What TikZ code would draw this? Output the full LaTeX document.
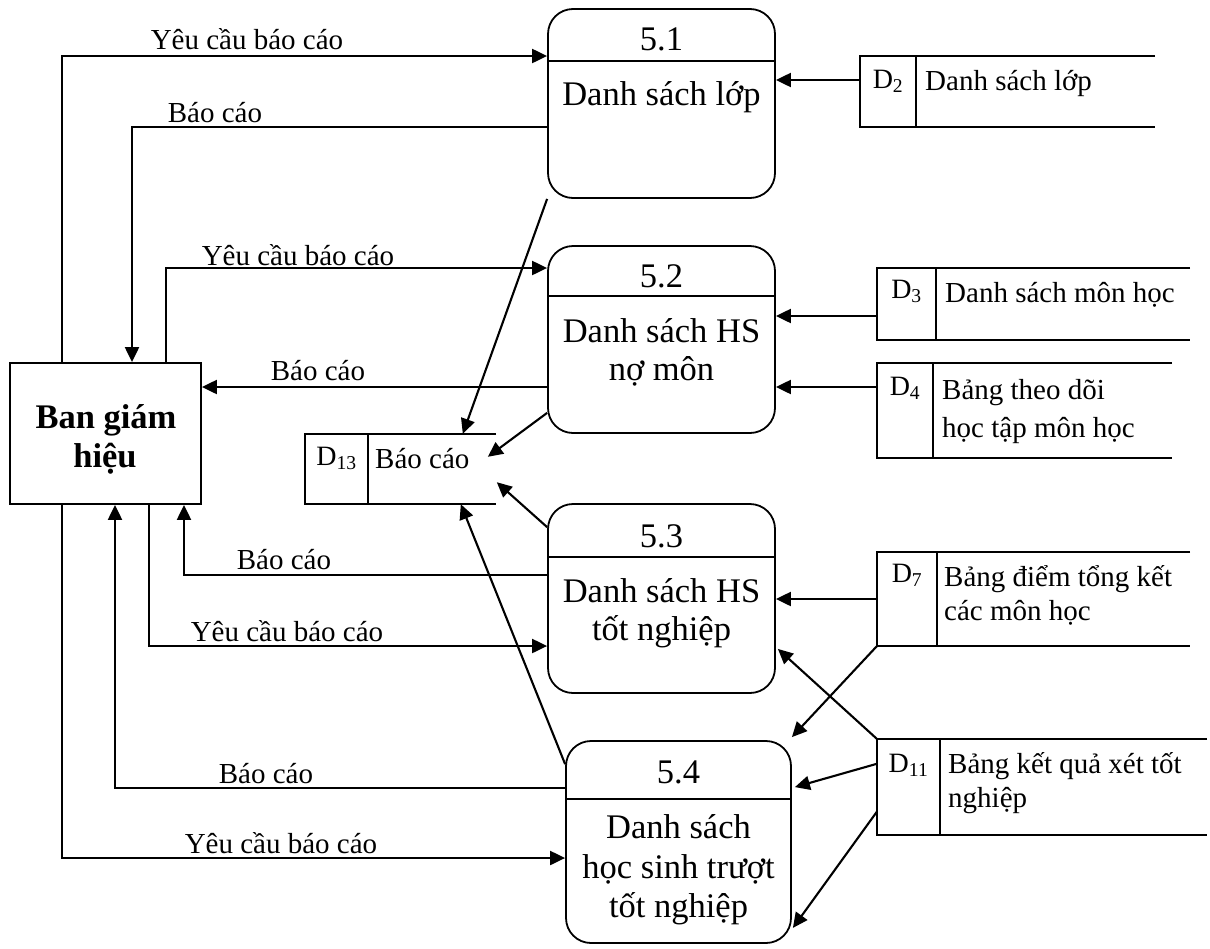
\documentclass[tikz,border=0pt]{standalone}
\usepackage{fontspec}
\setmainfont{Liberation Serif}
\usetikzlibrary{arrows.meta,calc}
\newcommand\drawstore[2]{%
  \draw[boxline] (#1.north east) -- (#1.north west) -- (#1.south west) -- (#1.south east);
  \draw[boxline] (#1.north west -| #2,0) -- (#1.south west -| #2,0);}
\begin{document}
\begin{tikzpicture}[x=1pt,y=-1pt,
 boxline/.style={line width=1.8pt},
 proc/.style={draw,line width=1.8pt,rounded corners=25pt,inner sep=0pt},
 entity/.style={draw,line width=1.8pt,inner sep=0pt},
 store/.style={inner sep=0pt},
 flow/.style={line width=2.1pt,-{Triangle[length=15pt,width=14pt]}},
 ptext/.style={font=\fontsize{34.5}{40}\selectfont,anchor=base,inner sep=0pt},
 btext/.style={font=\bfseries\fontsize{34.5}{40}\selectfont,anchor=base,inner sep=0pt},
 stext/.style={font=\fontsize{29}{35}\selectfont,anchor=base west,inner sep=0pt},
 dlab/.style={font=\fontsize{28}{34}\selectfont,anchor=base,inner sep=0pt},
 lbl/.style={font=\fontsize{29}{35}\selectfont,anchor=base,inner sep=0pt},
]
\useasboundingbox (0,0) rectangle (1210,948);

% external entity
\node[entity,minimum width=191pt,minimum height=141pt] (bgh) at (105.5,433.5) {};
\node[btext] (bgh1) at (106,428) {Ban giám};
\node[btext] (bgh2) at (105,467) {hiệu};

% processes
\node[proc,minimum width=227pt,minimum height=189pt] (p51) at (661.5,103.5) {};
\node[proc,minimum width=227pt,minimum height=187pt] (p52) at (661.5,339.5) {};
\node[proc,minimum width=227pt,minimum height=189pt] (p53) at (661.5,598.5) {};
\node[proc,minimum width=225pt,minimum height=202pt] (p54) at (678.5,842) {};
\draw[boxline] (p51.west |- 0,61) -- (p51.east |- 0,61);
\draw[boxline] (p52.west |- 0,296) -- (p52.east |- 0,296);
\draw[boxline] (p53.west |- 0,557) -- (p53.east |- 0,557);
\draw[boxline] (p54.west |- 0,799) -- (p54.east |- 0,799);

\node[ptext] (n51) at (661.5,50) {5.1};
\node[ptext] (t51a) at (661.5,105) {Danh sách lớp};
\node[ptext] (n52) at (661.5,287) {5.2};
\node[ptext] (t52a) at (661.5,342) {Danh sách HS};
\node[ptext] (t52b) at (661.5,380) {nợ môn};
\node[ptext] (n53) at (661.5,547) {5.3};
\node[ptext] (t53a) at (661.5,602) {Danh sách HS};
\node[ptext] (t53b) at (661.5,640) {tốt nghiệp};
\node[ptext] (n54) at (678.5,783) {5.4};
\node[ptext] (t54a) at (678.5,838) {Danh sách};
\node[ptext] (t54b) at (678.5,878) {học sinh trượt};
\node[ptext] (t54c) at (678.5,917) {tốt nghiệp};

% data stores
\node[store,minimum width=295pt,minimum height=71pt] (d2) at (1007.5,91.5) {};
\node[store,minimum width=313pt,minimum height=72pt] (d3) at (1033.5,304) {};
\node[store,minimum width=295pt,minimum height=95pt] (d4) at (1024.5,410.5) {};
\node[store,minimum width=313pt,minimum height=94pt] (d7) at (1033.5,599) {};
\node[store,minimum width=330pt,minimum height=96pt] (d11) at (1042,787) {};
\node[store,minimum width=191pt,minimum height=70pt] (d13) at (400.5,469) {};
\drawstore{d2}{916}
\drawstore{d3}{936}
\drawstore{d4}{933}
\drawstore{d7}{937}
\drawstore{d11}{940}
\drawstore{d13}{368}

\node[dlab] (k2) at (888,88) {D\textsubscript{2}};
\node[stext] (s2) at (925,90) {Danh sách lớp};
\node[dlab] (k3) at (906.5,298) {D\textsubscript{3}};
\node[stext] (s3) at (945,302) {Danh sách môn học};
\node[dlab] (k4) at (905,395) {D\textsubscript{4}};
\node[stext] (s4a) at (942,399) {Bảng theo dõi};
\node[stext] (s4b) at (942,437) {học tập môn học};
\node[dlab] (k7) at (907,582) {D\textsubscript{7}};
\node[stext] (s7a) at (944,586) {Bảng điểm tổng kết};
\node[stext] (s7b) at (944,620) {các môn học};
\node[dlab] (k11) at (908.5,772) {D\textsubscript{11}};
\node[stext] (s11a) at (948,773) {Bảng kết quả xét tốt};
\node[stext] (s11b) at (948,807) {nghiệp};
\node[dlab] (k13) at (336.5,465) {D\textsubscript{13}};
\node[stext] (s13) at (375,468) {Báo cáo};

% flows between BGH and processes
\draw[flow] ([xshift=-43.5pt]bgh.north) |- (p51.west |- 0,56);
\draw[flow] (p51.west |- 0,127) -| ([xshift=26.5pt]bgh.north);
\draw[flow] ([xshift=60.5pt]bgh.north) |- (p52.west |- 0,268);
\draw[flow] (p52.west |- 0,387) -- (bgh.east |- 0,387);
\draw[flow] (p53.west |- 0,575) -| ([xshift=78.5pt]bgh.south);
\draw[flow] ([xshift=43.5pt]bgh.south) |- (p53.west |- 0,646);
\draw[flow] (p54.west |- 0,788) -| ([xshift=9.5pt]bgh.south);
\draw[flow] ([xshift=-43.5pt]bgh.south) |- (p54.west |- 0,858);

\node[lbl] (l1) at (247,49) {Yêu cầu báo cáo};
\node[lbl] (l2) at (215,122) {Báo cáo};
\node[lbl] (l3) at (298,265) {Yêu cầu báo cáo};
\node[lbl] (l4) at (318,380) {Báo cáo};
\node[lbl] (l5) at (284,569) {Báo cáo};
\node[lbl] (l6) at (287,641) {Yêu cầu báo cáo};
\node[lbl] (l7) at (266,783) {Báo cáo};
\node[lbl] (l8) at (281,853) {Yêu cầu báo cáo};

% flows to D13
\draw[flow] (p51.south west) -- ([xshift=158pt]d13.north west);
\draw[flow] ([yshift=21pt]p52.south west) -- ([xshift=183pt,yshift=-23pt]d13.north west);
\draw[flow] ([yshift=-24pt]p53.north west) -- ([xshift=192pt,yshift=22pt]d13.south west);
\draw[flow] ([yshift=-24pt]p54.north west) -- ([xshift=156pt]d13.south west);

% flows from stores
\draw[flow] (d2.west |- 0,80) -- (p51.east |- 0,80);
\draw[flow] (d3.west |- 0,316) -- (p52.east |- 0,316);
\draw[flow] (d4.west |- 0,387) -- (p52.east |- 0,387);
\draw[flow] (d7.west |- 0,599) -- (p53.east |- 0,599);
\draw[flow] (d7.south west) -- ([yshift=3pt]p54.north east);
\draw[flow] (d11.north west) -- ([xshift=2pt,yshift=45pt]p53.south east);
\draw[flow] ([yshift=-25pt]d11.north west) -- ([xshift=3pt,yshift=-47pt]p54.north east);
\draw[flow] ([yshift=-73pt]d11.north west) -- ([xshift=1pt,yshift=16pt]p54.south east);
\end{tikzpicture}
\end{document}
